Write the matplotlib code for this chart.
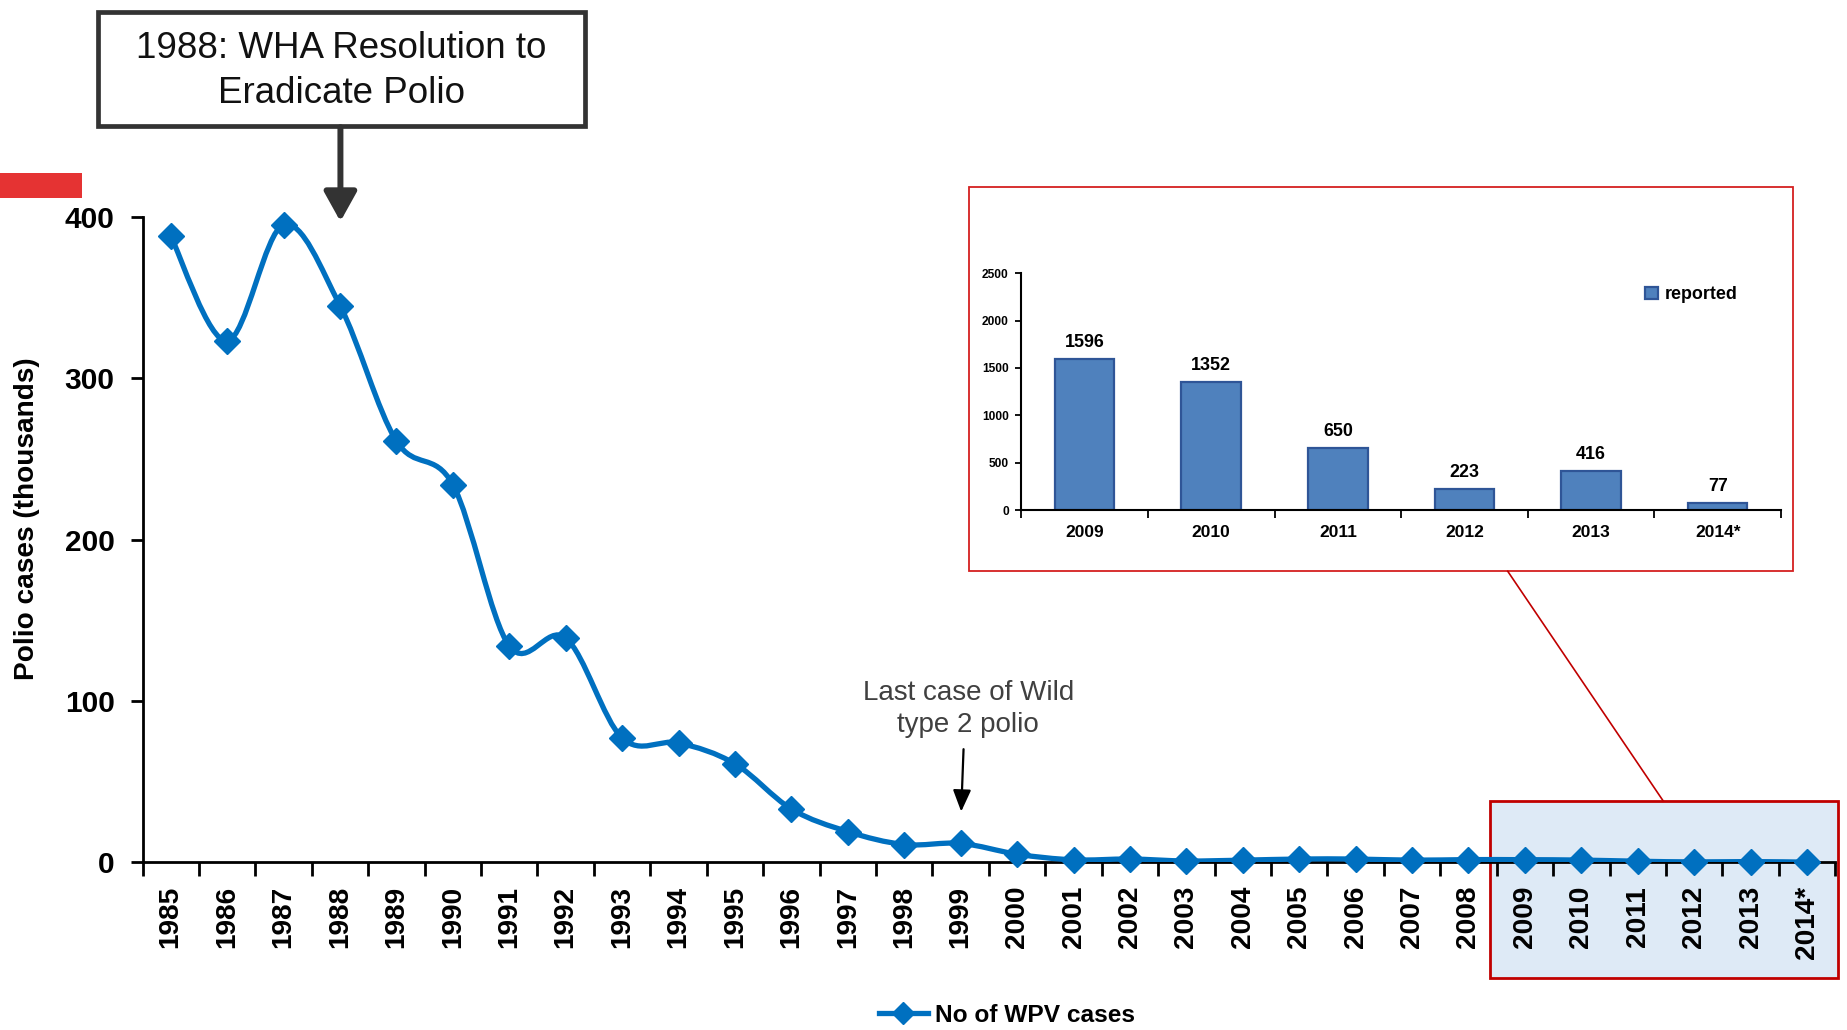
import numpy as np
import matplotlib
matplotlib.use('Agg')
import matplotlib.pyplot as plt
from matplotlib.path import Path
from matplotlib.patches import PathPatch, Rectangle, FancyArrowPatch
from matplotlib.lines import Line2D
from matplotlib import font_manager as fm

# ---------------- data ----------------
years = ['1985', '1986', '1987', '1988', '1989', '1990', '1991', '1992', '1993', '1994',
         '1995', '1996', '1997', '1998', '1999', '2000', '2001', '2002', '2003', '2004',
         '2005', '2006', '2007', '2008', '2009', '2010', '2011', '2012', '2013', '2014*']
cases_thousands = [388, 323, 395, 345, 261, 234, 134, 139, 77, 74,
                   61, 33, 19, 11, 11.7, 5, 1.5, 2.0, 0.8, 1.3,
                   2.0, 2.0, 1.3, 1.65, 1.6, 1.35, 0.65, 0.22, 0.42, 0.08]
main_yticks = [0, 100, 200, 300, 400]

inset_years = ['2009', '2010', '2011', '2012', '2013', '2014*']
inset_reported = [1596, 1352, 650, 223, 416, 77]
inset_yticks = [0, 500, 1000, 1500, 2000, 2500]

# ---------------- fonts ----------------
names = {f.name for f in fm.fontManager.ttflist}
HAS_NARROW = 'Liberation Sans Narrow' in names
NARROW = 'Liberation Sans Narrow' if HAS_NARROW else 'Liberation Sans'
K = 1.0 if HAS_NARROW else 0.86   # shrink regular-width font to match narrow text widths
REG = 'Liberation Sans'
plt.rcParams['font.family'] = [REG, 'DejaVu Sans']

# layout grid helpers (design grid 1568 x 874.4)
GW, GH = 1568.0, 874.4
def fx(p):
    return p / GW
def fy(p):
    return 1 - p / GH

fig = plt.figure(figsize=(18.47, 10.30), dpi=100)
fig.patch.set_facecolor('white')

BLUE = '#0070C0'

# ---------------- main axes ----------------
ax = fig.add_axes([fx(121), fy(732), fx(1558) - fx(121), fy(184) - fy(732)])
ax.set_facecolor('none')
ax.set_xlim(-0.5, len(years) - 0.5)
ax.set_ylim(0, 400)
for s in ['top', 'right']:
    ax.spines[s].set_visible(False)
for s in ['left', 'bottom']:
    ax.spines[s].set_linewidth(2)
    ax.spines[s].set_color('black')

xs = np.arange(len(years))
ax.set_xticks(np.arange(-0.5, len(years), 1.0))
ax.set_xticklabels([])
ax.set_xticks(xs, minor=True)
ax.set_xticklabels(years, minor=True, rotation=90, fontsize=23.5 * K,
                   fontweight='bold', family=NARROW)
ax.tick_params(axis='x', which='major', length=10, width=2, direction='out')
ax.tick_params(axis='x', which='minor', length=0, pad=17)
ax.set_yticks(main_yticks)
ax.set_yticklabels([str(v) for v in main_yticks], fontsize=25 * K,
                   fontweight='bold', family=NARROW)
ax.tick_params(axis='y', length=9, width=2, direction='out', pad=11)

# smoothed line (Excel-style Catmull-Rom Bezier) through data points
ys = np.array(cases_thousands, dtype=float)
pts = np.column_stack([xs, ys])
verts = [tuple(pts[0])]
codes = [Path.MOVETO]
n = len(pts)
for i in range(n - 1):
    p0 = pts[i - 1] if i > 0 else pts[i]
    p1 = pts[i]
    p2 = pts[i + 1]
    p3 = pts[i + 2] if i + 2 < n else pts[i + 1]
    c1 = p1 + (p2 - p0) / 6.0
    c2 = p2 - (p3 - p1) / 6.0
    verts += [tuple(c1), tuple(c2), tuple(p2)]
    codes += [Path.CURVE4] * 3
ax.add_patch(PathPatch(Path(verts, codes), fill=False, edgecolor=BLUE,
                       lw=3.8, capstyle='round', joinstyle='round', zorder=3))
ax.plot(xs, ys, linestyle='none', marker='D', ms=13, color=BLUE, zorder=4,
        clip_on=False)

# y label
fig.text(fx(23), fy(440), 'Polio cases (thousands)', rotation=90, ha='center',
         va='center', fontsize=23.5 * K, fontweight='bold', family=NARROW)

# legend
handle = Line2D([], [], color=BLUE, lw=3.8, marker='D', ms=11)
fig.legend([handle], ['No of WPV cases'], loc='center',
           bbox_to_anchor=(fx(855), fy(862)), frameon=False,
           prop={'family': NARROW, 'weight': 'bold', 'size': 20.5 * K},
           handlelength=2.0, handletextpad=0.3)

# ---------------- decorations ----------------
# red tab top-left
fig.add_artist(Rectangle((0, fy(168)), fx(70), fy(147) - fy(168),
                         transform=fig.transFigure, facecolor='#E53333',
                         edgecolor='none'))

# annotation box 1988
fig.add_artist(Rectangle((fx(83), fy(107)), fx(497) - fx(83), fy(10) - fy(107),
                         transform=fig.transFigure, facecolor='white',
                         edgecolor='#333333', lw=3.4))
fig.text(fx(290), fy(60), '1988: WHA Resolution to\nEradicate Polio',
         ha='center', va='center', fontsize=26.5, family=REG, color='#111111',
         linespacing=1.36)
fig.add_artist(FancyArrowPatch((fx(289), fy(108)), (fx(289), fy(188)),
                               transform=fig.transFigure,
                               arrowstyle='-|>,head_length=0.45,head_width=0.25',
                               mutation_scale=40, lw=4.3, color='#333333',
                               shrinkA=0, shrinkB=0))

# last case of wild type 2 annotation
fig.text(fx(822), fy(602), 'Last case of Wild\ntype 2 polio', ha='center',
         va='center', fontsize=20, family=REG, color='#404040', linespacing=1.33)
fig.add_artist(FancyArrowPatch((fx(818), fy(636)), (fx(816), fy(689)),
                               transform=fig.transFigure,
                               arrowstyle='-|>,head_length=0.6,head_width=0.25',
                               mutation_scale=22, lw=1.6, color='black',
                               shrinkA=0, shrinkB=0))

# highlight box behind recent years
fig.add_artist(Rectangle((fx(1265), fy(830)), fx(1560) - fx(1265), fy(680) - fy(830),
                         transform=fig.transFigure, facecolor='#DEEAF6',
                         edgecolor='#C00000', lw=2.0, zorder=-1))
# connector
fig.add_artist(Line2D([fx(1280), fx(1412)], [fy(485), fy(680)],
                      transform=fig.transFigure, color='#C00000', lw=1.2))
# inset frame
fig.add_artist(Rectangle((fx(823), fy(485)), fx(1522) - fx(823), fy(159) - fy(485),
                         transform=fig.transFigure, facecolor='white',
                         edgecolor='#D42020', lw=1.3))

# ---------------- inset axes ----------------
iax = fig.add_axes([fx(867), fy(433), fx(1512) - fx(867), fy(232) - fy(433)])
iax.set_zorder(5)
iax.set_facecolor('none')
ix = np.arange(len(inset_years))
bars = iax.bar(ix, inset_reported, width=0.47, color='#4F81BD',
               edgecolor='#2F5597', lw=1.6, label='reported')
iax.set_xlim(-0.5, len(inset_years) - 0.5)
iax.set_ylim(0, 2500)
for s in ['top', 'right']:
    iax.spines[s].set_visible(False)
for s in ['left', 'bottom']:
    iax.spines[s].set_linewidth(1.5)
iax.set_xticks(np.arange(-0.5, len(inset_years), 1.0))
iax.set_xticklabels([])
iax.set_xticks(ix, minor=True)
iax.set_xticklabels(inset_years, minor=True, fontsize=14.5 * K, fontweight='bold',
                    family=NARROW)
iax.tick_params(axis='x', which='major', length=6, width=1.3, direction='out')
iax.tick_params(axis='x', which='minor', length=0, pad=11)
iax.set_yticks(inset_yticks)
iax.set_yticklabels([str(v) for v in inset_yticks], fontsize=10 * K, family=NARROW,
                    fontweight='bold')
iax.tick_params(axis='y', length=4, width=1.3, direction='out', pad=5)
for xi, v in zip(ix, inset_reported):
    iax.text(xi, v + 175, str(v), ha='center', va='center', fontsize=15 * K,
             fontweight='bold', family=NARROW)
iax.legend(loc='center left', bbox_to_anchor=(0.8, 0.91), frameon=False,
           prop={'family': NARROW, 'weight': 'bold', 'size': 15 * K},
           handlelength=0.7, handleheight=0.7, handletextpad=0.4)

fig.savefig('out.png', dpi=100, facecolor='white')
